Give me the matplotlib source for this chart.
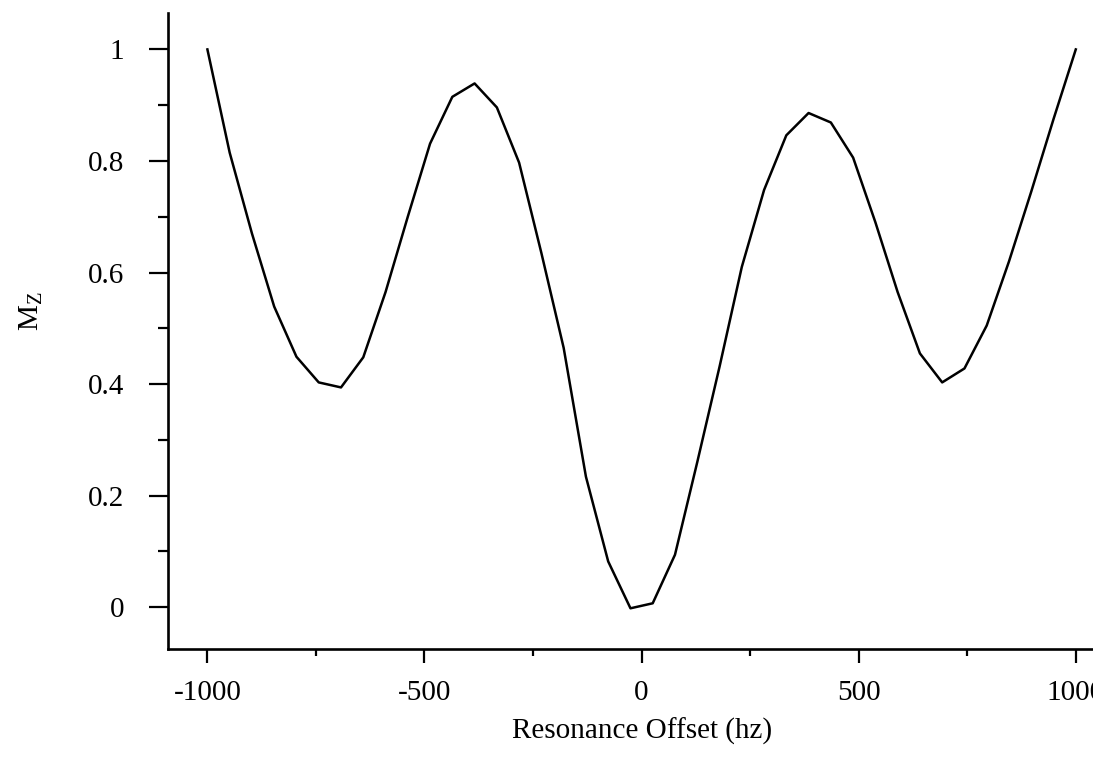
import numpy as np
import matplotlib.pyplot as plt
from matplotlib.ticker import MultipleLocator, FuncFormatter

# resonance offsets (hz), 40 samples from -1000 to 1000
offset = [-1000.0, -948.7, -897.4, -846.2, -794.9, -743.6, -692.3, -641.0,
          -589.7, -538.5, -487.2, -435.9, -384.6, -333.3, -282.1, -230.8,
          -179.5, -128.2, -76.9, -25.6, 25.6, 76.9, 128.2, 179.5,
          230.8, 282.1, 333.3, 384.6, 435.9, 487.2, 538.5, 589.7,
          641.0, 692.3, 743.6, 794.9, 846.2, 897.4, 948.7, 1000.0]

# longitudinal magnetisation Mz
mz = [1.000, 0.815, 0.670, 0.539, 0.449, 0.403, 0.394, 0.448,
      0.565, 0.700, 0.831, 0.915, 0.939, 0.896, 0.797, 0.635,
      0.465, 0.234, 0.082, -0.002, 0.007, 0.094, 0.260, 0.431,
      0.610, 0.748, 0.846, 0.886, 0.869, 0.806, 0.690, 0.565,
      0.455, 0.403, 0.428, 0.505, 0.620, 0.745, 0.875, 1.000]

x_major = [-1000, -500, 0, 500, 1000]
y_major = [0, 0.2, 0.4, 0.6, 0.8, 1]

plt.rcParams['font.family'] = 'Liberation Serif'
plt.rcParams['mathtext.fontset'] = 'custom'
plt.rcParams['mathtext.rm'] = 'Liberation Serif'
plt.rcParams['axes.unicode_minus'] = False

fig = plt.figure(figsize=(10.93, 7.64), dpi=100)
# axes run past the right edge, like the scanned original
ax = fig.add_axes([0.154, 0.1505, 0.866, 0.833])

ax.plot(offset, mz, color='black', lw=1.8)

ax.set_xlim(-1090, 1090)
ax.set_ylim(-0.075, 1.066)

for s in ['top', 'right']:
    ax.spines[s].set_visible(False)
for s in ['left', 'bottom']:
    ax.spines[s].set_linewidth(1.9)

ax.set_xticks(x_major)
ax.xaxis.set_minor_locator(MultipleLocator(250))
ax.set_yticks(y_major)
ax.yaxis.set_minor_locator(MultipleLocator(0.1))
ax.yaxis.set_major_formatter(FuncFormatter(lambda v, _: f'{v:g}'))

ax.tick_params(axis='x', which='major', direction='out', length=10, width=1.6,
               labelsize=21, pad=12)
ax.tick_params(axis='x', which='minor', direction='out', length=5, width=1.6)
ax.tick_params(axis='y', which='major', direction='out', length=14, width=1.6,
               labelsize=21, pad=18)
ax.tick_params(axis='y', which='minor', direction='out', length=7, width=1.6)

ax.set_xlabel('Resonance Offset (hz)', fontsize=21, labelpad=9)
ax.set_ylabel(r'$\mathrm{M_Z}$', fontsize=21, rotation=90)
ax.yaxis.set_label_coords(-0.13, 0.53)

fig.savefig('out.png', dpi=100)
